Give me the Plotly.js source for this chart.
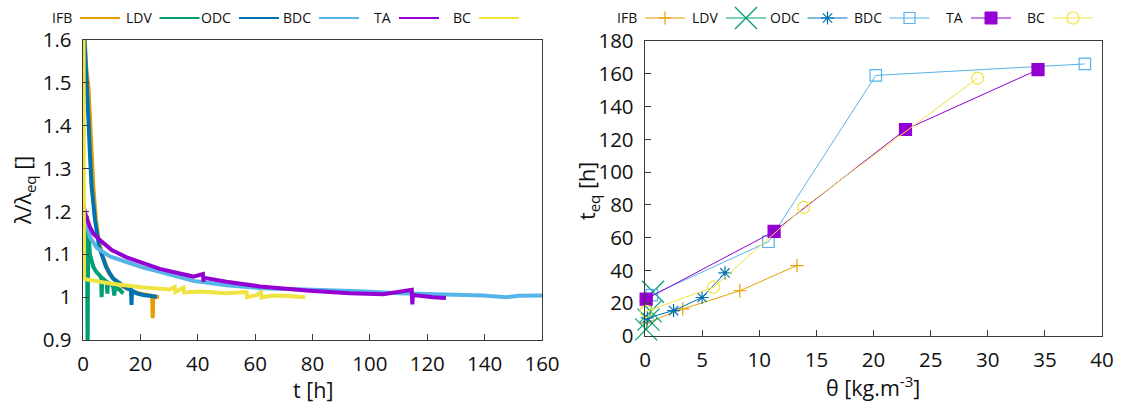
<!DOCTYPE html>
<html><head><meta charset="utf-8">
<script src="https://cdn.plot.ly/plotly-3.0.1.min.js"></script>
<style>html,body{margin:0;padding:0;background:#fff;}</style>
</head><body>
<div id="chart" style="width:1129px;height:403px;"></div>
<script>
// ---------- series names & colours ----------
const seriesNames = ['IFB', 'LDV', 'ODC', 'BDC', 'TA', 'BC'];
const seriesColors = ['#E69F00', '#009E73', '#0072B2', '#56B4E9', '#9400D3', '#F0E442'];

// ---------- left panel: lambda/lambda_eq versus t [h] ----------
const IFB_t = [0.4, 0.8, 1.2, 1.9, 2.4, 3.0, 3.6, 4.5, 5.3, 6.6, 7.9, 9.0, 10.8, 12.3, 14.0, 16.0, 18.0, 20.0, 22.0, 24.1, 24.3, 24.5, 25.5, 26.5];
const IFB_r = [1.62, 1.57, 1.53, 1.49, 1.42, 1.336, 1.258, 1.18, 1.141, 1.102, 1.075, 1.056, 1.042, 1.032, 1.024, 1.017, 1.012, 1.008, 1.005, 1.003, 0.951, 1.002, 1.001, 1.0];

const LDV_t = [1.4, 1.6, 1.8, 2.0, 2.4, 3.0, 3.6, 4.5, 5.5, 6.3, 6.5, 6.7, 7.5, 8.3, 8.5, 8.7, 9.4, 10.5, 10.9, 11.2, 12.0, 12.9, 13.5, 14.2];
const LDV_r = [1.19, 0.85, 1.16, 1.13, 1.10, 1.085, 1.071, 1.06, 1.052, 1.047, 1.0, 1.045, 1.04, 1.036, 1.008, 1.034, 1.032, 1.026, 1.004, 1.024, 1.02, 1.017, 1.012, 1.01];

const ODC_t = [0.4, 0.8, 1.3, 1.9, 2.4, 3.0, 4.2, 5.6, 6.4, 8.0, 10.4, 13.0, 15.2, 16.7, 16.9, 17.1, 18.7, 21.0, 23.0, 25.7];
const ODC_r = [1.62, 1.55, 1.49, 1.413, 1.336, 1.258, 1.18, 1.118, 1.102, 1.071, 1.044, 1.03, 1.021, 1.018, 0.982, 1.015, 1.009, 1.005, 1.003, 1.001];

const BDC_t = [0.3, 1.0, 2.4, 4.8, 9.4, 15.2, 21.0, 26.8, 31.4, 38.4, 50.0, 61.7, 80.0, 96.5, 110.0, 128.0, 139.5, 147.6, 152.0, 160.0];
const BDC_r = [1.20, 1.18, 1.14, 1.115, 1.095, 1.082, 1.069, 1.059, 1.05, 1.038, 1.028, 1.021, 1.017, 1.014, 1.009, 1.007, 1.004, 1.0, 1.003, 1.004];

const TA_t = [0.1, 1.0, 2.4, 3.6, 5.9, 10.0, 15.2, 26.8, 38.4, 41.8, 42.0, 42.2, 50.0, 61.7, 79.0, 93.0, 104.7, 114.6, 114.8, 115.0, 122.0, 126.5];
const TA_r = [1.215, 1.19, 1.164, 1.148, 1.133, 1.11, 1.093, 1.066, 1.048, 1.054, 1.036, 1.045, 1.036, 1.025, 1.015, 1.009, 1.007, 1.017, 0.983, 1.005, 1.0, 0.998];

const BC_t = [0.2, 0.35, 0.7, 9.4, 20.2, 30.3, 32.0, 32.2, 35.0, 35.2, 40.5, 50.0, 57.0, 57.2, 60.7, 62.0, 62.2, 66.0, 70.0, 77.5];
const BC_r = [1.62, 1.045, 1.042, 1.032, 1.023, 1.018, 1.024, 1.012, 1.022, 1.011, 1.013, 1.009, 1.012, 1.0, 1.005, 1.011, 0.999, 1.004, 1.003, 1.0];

// ---------- right panel: t_eq [h] versus theta [kg.m-3] ----------
const IFB_theta = [0.15, 3.3, 8.3, 13.3];
const IFB_teq   = [8, 16.5, 27.6, 43];
const LDV_theta = [0.1, 0.3, 0.5, 0.7];
const LDV_teq   = [4, 10, 15, 27];
const ODC_theta = [0.2, 2.5, 5.0, 7.0];
const ODC_teq   = [11, 15.5, 23.5, 38.5];
const BDC_theta = [0.6, 10.8, 20.2, 38.5];
const BDC_teq   = [25, 57.5, 159, 166];
const TA_theta  = [0.1, 11.3, 22.8, 34.4];
const TA_teq    = [22.5, 63.8, 126, 162.5];
const BC_theta  = [0.1, 6.0, 13.9, 29.1];
const BC_teq    = [15, 29.8, 78.5, 157.3];

const leftT = [IFB_t, LDV_t, ODC_t, BDC_t, TA_t, BC_t];
const leftR = [IFB_r, LDV_r, ODC_r, BDC_r, TA_r, BC_r];
const rightX = [IFB_theta, LDV_theta, ODC_theta, BDC_theta, TA_theta, BC_theta];
const rightY = [IFB_teq, LDV_teq, ODC_teq, BDC_teq, TA_teq, BC_teq];
const rightSymbols = ['cross-thin-open', 'x-thin-open', 'asterisk-open', 'square-open', 'square', 'circle-open'];
const rightSizes = [9.5, 22, 11, 11.5, 12, 12];

// ---------- geometry ----------
const W = 1129, H = 403;
const px = x => x / W;
const py = y => 1 - y / H;
const FONT = 'Open Sans, Noto Sans, sans-serif';

const traces = [];
seriesNames.forEach((n, i) => {
  traces.push({
    x: leftT[i], y: leftR[i], xaxis: 'x', yaxis: 'y', name: n,
    type: 'scatter', mode: 'lines',
    line: {color: seriesColors[i], width: 4},
    showlegend: false, hoverinfo: 'skip'
  });
});
seriesNames.forEach((n, i) => {
  traces.push({
    x: rightX[i], y: rightY[i], xaxis: 'x2', yaxis: 'y2', name: n,
    type: 'scatter', mode: 'lines+markers', cliponaxis: false,
    line: {color: seriesColors[i], width: 1},
    marker: {symbol: rightSymbols[i], size: rightSizes[i], color: seriesColors[i],
             line: {color: seriesColors[i], width: 1.2}},
    showlegend: false, hoverinfo: 'skip'
  });
});

const axisBase = {
  showline: true, mirror: true, linecolor: '#3a3a3a', linewidth: 1.3,
  ticks: 'inside', ticklen: 6, tickwidth: 1.2, tickcolor: '#3a3a3a',
  showgrid: false, zeroline: false, autorange: false,
  tickfont: {family: FONT, size: 20.5, color: '#111'}
};

// ---------- hand-built gnuplot-style keys (label then sample) ----------
const shapes = [];
const annotations = [];
const keyY = 18;
const leftKeyStart = [80, 159.5, 239, 319, 399, 479];
const rightKeyStart = [645, 726, 807.5, 889.5, 971, 1053];
function seg(x0, y0, x1, y1, color, width) {
  shapes.push({type: 'line', xref: 'paper', yref: 'paper',
    x0: px(x0), y0: py(y0), x1: px(x1), y1: py(y1), line: {color: color, width: width}});
}
function keyLabel(text, xr) {
  annotations.push({text: text, xref: 'paper', yref: 'paper', x: px(xr + 2), y: py(keyY),
    xanchor: 'right', yanchor: 'middle', showarrow: false, borderpad: 0,
    font: {family: FONT, size: 14, color: '#111'}});
}
seriesNames.forEach((n, i) => {
  const s = leftKeyStart[i];
  keyLabel(n, s - 9);
  seg(s, keyY, s + 40, keyY, seriesColors[i], 2);
});
seriesNames.forEach((n, i) => {
  const s = rightKeyStart[i];
  const c = seriesColors[i];
  keyLabel(n, s - 9);
  seg(s, keyY, s + 40, keyY, c, 1);
  const cx = s + 20, cy = keyY;
  if (i === 0) { seg(cx - 6.5, cy, cx + 6.5, cy, c, 1.2); seg(cx, cy - 6.5, cx, cy + 6.5, c, 1.2); }
  if (i === 1) { seg(cx - 11, cy - 11, cx + 11, cy + 11, c, 1.2); seg(cx - 11, cy + 11, cx + 11, cy - 11, c, 1.2); }
  if (i === 2) { seg(cx - 6.5, cy, cx + 6.5, cy, c, 1.2); seg(cx, cy - 6.5, cx, cy + 6.5, c, 1.2);
                 seg(cx - 4.7, cy - 4.7, cx + 4.7, cy + 4.7, c, 1.2); seg(cx - 4.7, cy + 4.7, cx + 4.7, cy - 4.7, c, 1.2); }
  if (i === 3) shapes.push({type: 'rect', xref: 'paper', yref: 'paper', x0: px(cx - 5.5), x1: px(cx + 5.5),
                 y0: py(cy - 5.5), y1: py(cy + 5.5), line: {color: c, width: 1.2}, fillcolor: 'rgba(0,0,0,0)'});
  if (i === 4) shapes.push({type: 'rect', xref: 'paper', yref: 'paper', x0: px(cx - 6), x1: px(cx + 6),
                 y0: py(cy - 6), y1: py(cy + 6), line: {color: c, width: 1}, fillcolor: c});
  if (i === 5) shapes.push({type: 'circle', xref: 'paper', yref: 'paper', x0: px(cx - 6), x1: px(cx + 6),
                 y0: py(cy - 6), y1: py(cy + 6), line: {color: c, width: 1.2}, fillcolor: 'rgba(0,0,0,0)'});
});

// ---------- axis titles ----------
function title(text, x, y, angle) {
  annotations.push({text: text, xref: 'paper', yref: 'paper', x: px(x), y: py(y),
    xanchor: 'center', yanchor: 'middle', showarrow: false, textangle: angle || 0, borderpad: 0,
    font: {family: FONT, size: 21.5, color: '#111'}});
}
title('t [h]', 313, 389);
title('θ [kg.m<sup>-3</sup>]', 873, 386);
title('λ/λ<sub>eq</sub> []', 24, 191, -90);
title('t<sub>eq</sub> [h]', 588, 191, -90);

const layout = {
  width: W, height: H, autosize: false,
  margin: {l: 0, r: 0, t: 0, b: 0},
  paper_bgcolor: '#fff', plot_bgcolor: '#fff',
  showlegend: false,
  xaxis: Object.assign({}, axisBase, {domain: [px(83), px(542)], range: [0, 160], dtick: 20, tick0: 0, anchor: 'y', ticklabelstandoff: 5}),
  yaxis: Object.assign({}, axisBase, {domain: [py(340), py(40)], range: [0.9, 1.6], dtick: 0.1, tick0: 0.9, anchor: 'x', ticklabelstandoff: 6}),
  xaxis2: Object.assign({}, axisBase, {domain: [px(645), px(1102)], range: [0, 40], dtick: 5, tick0: 0, anchor: 'y2', ticklabelstandoff: 5}),
  yaxis2: Object.assign({}, axisBase, {domain: [py(336), py(41)], range: [0, 180], dtick: 20, tick0: 0, anchor: 'x2', ticklabelstandoff: 6}),
  shapes: shapes,
  annotations: annotations
};

Plotly.newPlot('chart', traces, layout, {staticPlot: true, displayModeBar: false});
</script>
</body></html>
